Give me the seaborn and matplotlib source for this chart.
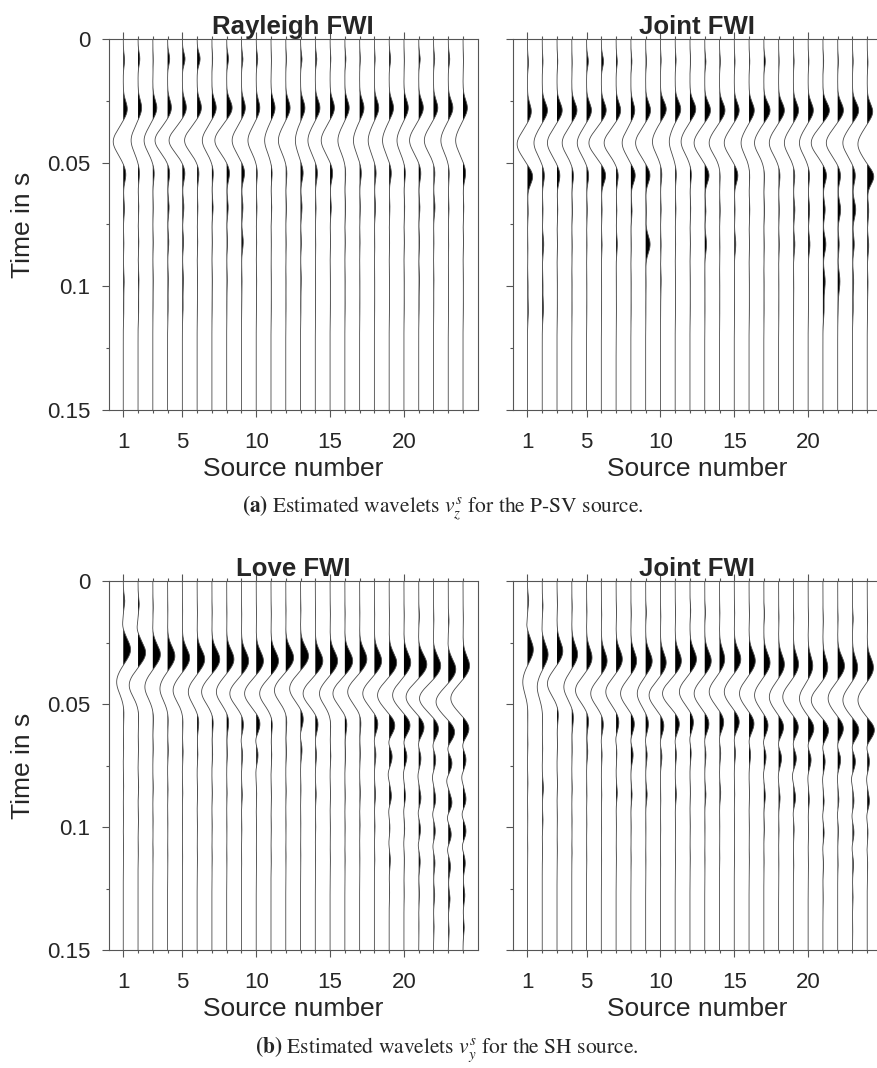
import numpy as np
import pandas as pd
import matplotlib
matplotlib.use("Agg")
import matplotlib.pyplot as plt
import seaborn as sns
from matplotlib.ticker import FixedLocator, MultipleLocator

# ---- data ----
sources = list(range(1, 25))
x_major = [1, 5, 10, 15, 20]
y_major = [0, 0.05, 0.1, 0.15]
y_labels = ['0', '0.05', '0.1', '0.15']
titles = ['Rayleigh FWI', 'Joint FWI', 'Love FWI', 'Joint FWI']
caption_a = r'$\mathbf{(a)}$ Estimated wavelets $v_z^s$ for the P-SV source.'
caption_b = r'$\mathbf{(b)}$ Estimated wavelets $v_y^s$ for the SH source.'

# lobe centre times (s) and widths (s) of the v_z wavelets
vz_times = [0.008, 0.028, 0.041, 0.054, 0.068, 0.082, 0.097, 0.108]
vz_widths = [0.0025, 0.0033, 0.0045, 0.0032, 0.0035, 0.0035, 0.004, 0.004]

# Rayleigh FWI, lobe amplitudes per source (in source spacings, + = right)
ray_p0 = [0.09, 0.12, 0.03, 0.14, 0.18, 0.2, 0.05, 0.12, 0.1, 0.1, 0.03, 0.05, 0.1, 0.1, 0.05, 0.07, 0.05, 0.05, 0.1, 0.03, 0.1, 0.08, 0.1, 0.03]
ray_p1 = [0.28, 0.25, 0.28, 0.27, 0.28, 0.3, 0.3, 0.38, 0.27, 0.25, 0.28, 0.3, 0.3, 0.32, 0.3, 0.3, 0.3, 0.3, 0.3, 0.3, 0.32, 0.3, 0.32, 0.3]
ray_n1 = [-0.68, -0.47, -0.59, -0.85, -0.9, -0.85, -0.65, -0.8, -0.63, -0.56, -0.43, -0.5, -0.35, -0.5, -0.6, -0.47, -0.42, -0.42, -0.45, -0.47, -0.62, -0.62, -0.5, -0.5]
ray_p2 = [0.18, 0.1, 0.1, 0.15, 0.18, 0.13, 0.1, 0.2, 0.22, 0.08, 0.08, 0.08, 0.18, 0.15, 0.18, 0.06, 0.12, 0.12, 0.15, 0.1, 0.15, 0.1, 0.07, 0.18]
ray_p3 = [0.08, 0.05, 0.03, 0.1, 0.1, 0.05, 0.08, 0.1, 0.1, 0.05, 0.05, 0.05, 0.1, 0.05, 0.08, 0.05, 0.05, 0.08, 0.05, 0.05, 0.08, 0.1, 0.05, 0.05]
ray_p4 = [0.04, 0.05, 0.03, 0.08, 0.08, 0.04, 0.03, 0.06, 0.12, 0.03, 0.02, 0.03, 0.06, 0.03, 0.03, 0.03, 0.03, 0.03, 0.03, 0.03, 0.06, 0.03, 0.03, 0.03]
ray_p5 = [0.06, 0.06, 0.03, 0.05, 0.07, 0.03, 0.03, 0.04, 0.04, 0.03, 0.02, 0.02, 0.05, 0.02, 0.02, 0.02, 0.02, 0.02, 0.02, 0.02, 0.05, 0.03, 0.02, 0.02]
ray_p6 = [0.04, 0.05, 0.02, 0.04, 0.05, 0.02, 0.02, 0.02, 0.02, 0.02, 0.02, 0.02, 0.03, 0.02, 0.02, 0.02, 0.02, 0.02, 0.02, 0.02, 0.03, 0.02, 0.02, 0.02]
ray_shift_ms = [0.5, 0, 0, 0, 0, 0, 0, 0, 0, 0, 0, 0, 0, 0, 0, 0, 0, 0, 0, 0, 0, 0, 0, 0]

# Joint FWI (P-SV)
jz_p0 = [0.07, 0.05, 0.05, 0.03, 0.12, 0.15, 0.08, 0.07, 0.06, 0.05, 0.06, 0.04, 0.08, 0.06, 0.05, 0.05, 0.1, 0.04, 0.05, 0.05, 0.05, 0.05, 0.05, 0.05]
jz_p1 = [0.27, 0.36, 0.36, 0.36, 0.34, 0.34, 0.32, 0.27, 0.34, 0.4, 0.38, 0.4, 0.4, 0.38, 0.34, 0.36, 0.43, 0.4, 0.36, 0.36, 0.45, 0.4, 0.43, 0.38]
jz_n1 = [-0.7, -0.56, -0.65, -0.65, -0.63, -0.84, -0.81, -0.59, -0.68, -0.54, -0.4, -0.6, -0.72, -0.7, -0.68, -0.54, -0.63, -0.63, -0.61, -0.59, -0.79, -0.77, -0.65, -0.63]
jz_p2 = [0.36, 0.15, 0.2, 0.12, 0.15, 0.3, 0.15, 0.3, 0.3, 0.1, 0.08, 0.1, 0.3, 0.05, 0.25, 0.05, 0.05, 0.1, 0.1, 0.1, 0.25, 0.2, 0.2, 0.45]
jz_p3 = [0.05, 0.05, 0.05, 0.05, 0.05, 0.05, 0.05, 0.08, 0.05, 0.05, 0.05, 0.05, 0.08, 0.05, 0.05, 0.05, 0.05, 0.05, 0.1, 0.1, 0.15, 0.2, 0.22, 0.1]
jz_p4 = [0.03, 0.1, 0.03, 0.03, 0.03, 0.05, 0.08, 0.03, 0.3, 0.05, 0.03, 0.03, 0.12, 0.03, 0.1, 0.03, 0.03, 0.05, 0.1, 0.12, 0.2, 0.1, 0.12, 0.1]
jz_p5 = [0.04, 0.05, 0.02, 0.02, 0.02, 0.02, 0.02, 0.02, 0.03, 0.05, 0.02, 0.02, 0.02, 0.02, 0.02, 0.02, 0.02, 0.02, 0.03, 0.03, 0.15, 0.15, 0.08, 0.05]
jz_p6 = [0.06, 0.08, 0.02, 0.02, 0.02, 0.02, 0.02, 0.02, 0.02, 0.02, 0.02, 0.02, 0.02, 0.02, 0.02, 0.02, 0.02, 0.02, 0.02, 0.02, 0.08, 0.03, 0.05, 0.02]
jz_shift_ms = [1.5, 1, 1, 1, 1, 1, 1, 1, 1, 0.5, 0.5, 0.5, 1, 1, 1, 1, 1, 1, 1, 1, 1, 1, 1, 1.5]

# lobe centre times (s) and widths (s) of the v_y wavelets
vy_times = [0.008, 0.018, 0.028, 0.041, 0.053, 0.060, 0.066, 0.073, 0.082, 0.088, 0.095, 0.101, 0.108, 0.121, 0.134]
vy_widths = [0.0025, 0.002, 0.004, 0.0045, 0.0035, 0.002, 0.003, 0.002, 0.003, 0.002, 0.003, 0.002, 0.003, 0.003, 0.003]

# Love FWI
love_p0 = [0.1, 0.08, 0.03, 0.02, 0.02, 0.02, 0.02, 0.02, 0.02, 0.02, 0.02, 0.02, 0.03, 0.02, 0.02, 0.02, 0.02, 0.02, 0.02, 0.02, 0.05, 0.03, 0.05, 0.02]
love_n0 = [-0.06, -0.08, -0.02, 0, 0, 0, 0, 0, 0, 0, 0, 0, 0, 0, 0, 0, 0, 0, 0, 0, -0.02, -0.02, -0.03, 0]
love_p1 = [0.5, 0.52, 0.52, 0.5, 0.5, 0.52, 0.54, 0.5, 0.5, 0.5, 0.52, 0.54, 0.55, 0.52, 0.52, 0.54, 0.5, 0.5, 0.52, 0.47, 0.56, 0.5, 0.52, 0.45]
love_n1 = [-0.45, -0.6, -0.54, -0.52, -0.63, -0.6, -0.7, -0.7, -0.79, -0.79, -0.77, -0.77, -0.74, -0.83, -0.72, -0.81, -0.81, -0.79, -0.79, -0.77, -0.86, -0.95, -0.83, -0.83]
love_p2 = [0.05, 0.05, 0.05, 0.05, 0.05, 0.12, 0.1, 0.15, 0.15, 0.27, 0.1, 0.08, 0.2, 0.2, 0.05, 0.15, 0.1, 0.25, 0.4, 0.43, 0.38, 0.36, 0.45, 0.42]
love_n2 = [0, 0, 0, 0, 0, 0, 0, 0, -0.05, -0.08, 0, 0, -0.05, -0.03, 0, 0, 0, -0.05, -0.1, -0.08, -0.08, -0.1, -0.12, -0.1]
love_p3 = [0.03, 0.03, 0.03, 0.05, 0.05, 0.05, 0.05, 0.05, 0.08, 0.12, 0.05, 0.05, 0.1, 0.08, 0.05, 0.05, 0.05, 0.1, 0.2, 0.2, 0.15, 0.15, 0.25, 0.2]
love_n3 = [0, 0, 0, 0, 0, 0, 0, 0, 0, -0.03, 0, 0, 0, 0, 0, 0, 0, 0, -0.08, -0.05, -0.06, -0.08, -0.12, -0.1]
love_p4 = [0.03, 0.04, 0.03, 0.03, 0.03, 0.03, 0.03, 0.03, 0.06, 0.03, 0.03, 0.03, 0.03, 0.06, 0.03, 0.03, 0.05, 0.08, 0.15, 0.1, 0.15, 0.15, 0.25, 0.2]
love_n4 = [0, 0, 0, 0, 0, 0, 0, 0, 0, 0, 0, 0, 0, 0, 0, 0, 0, 0, -0.05, -0.03, -0.06, -0.08, -0.1, -0.1]
love_p5 = [0.02, 0.03, 0.02, 0.02, 0.02, 0.02, 0.02, 0.02, 0.03, 0.02, 0.02, 0.02, 0.02, 0.03, 0.02, 0.02, 0.03, 0.04, 0.05, 0.05, 0.12, 0.12, 0.2, 0.2]
love_n5 = [0, 0, 0, 0, 0, 0, 0, 0, 0, 0, 0, 0, 0, 0, 0, 0, 0, 0, -0.03, -0.02, -0.05, -0.06, -0.08, -0.08]
love_p6 = [0.02, 0.02, 0.02, 0.02, 0.02, 0.02, 0.02, 0.02, 0.02, 0.02, 0.02, 0.02, 0.02, 0.02, 0.02, 0.02, 0.02, 0.03, 0.08, 0.03, 0.1, 0.1, 0.15, 0.15]
love_p7 = [0, 0, 0, 0, 0, 0, 0, 0, 0, 0, 0, 0, 0, 0, 0, 0, 0, 0, 0.03, 0.02, 0.05, 0.08, 0.12, 0.12]
love_p8 = [0, 0, 0, 0, 0, 0, 0, 0, 0, 0, 0, 0, 0, 0, 0, 0, 0, 0, 0, 0, 0.02, 0.04, 0.06, 0.08]
love_shift_ms = [0, 1.3, 2.0, 2.7, 3.4, 4.0, 4.0, 4.0, 4.7, 4.7, 4.7, 3.4, 2.7, 4.7, 4.7, 4.7, 4.0, 4.7, 5.4, 5.4, 6.1, 6.7, 8.1, 6.7]

# Joint FWI (SH)
jy_p0 = [0.08, 0.05, 0.03, 0.03, 0.03, 0.03, 0.03, 0.03, 0.05, 0.03, 0.03, 0.05, 0.05, 0.03, 0.03, 0.03, 0.05, 0.03, 0.03, 0.03, 0.03, 0.03, 0.05, 0.03]
jy_n0 = [-0.06, -0.03, 0, 0, 0, 0, 0, 0, 0, 0, 0, 0, 0, 0, 0, 0, 0, 0, 0, 0, 0, 0, 0, 0]
jy_p1 = [0.4, 0.4, 0.4, 0.4, 0.38, 0.4, 0.43, 0.4, 0.45, 0.4, 0.43, 0.45, 0.45, 0.36, 0.45, 0.43, 0.43, 0.4, 0.36, 0.32, 0.34, 0.47, 0.36, 0.43]
jy_n1 = [-0.32, -0.34, -0.65, -0.54, -0.75, -0.72, -0.7, -0.7, -0.57, -0.77, -0.86, -0.72, -0.72, -0.7, -0.68, -0.65, -0.63, -0.63, -0.72, -0.59, -0.79, -0.65, -0.65, -0.63]
jy_p2 = [0.03, 0.03, 0.1, 0.12, 0.15, 0.15, 0.2, 0.25, 0.2, 0.25, 0.3, 0.25, 0.3, 0.3, 0.35, 0.35, 0.3, 0.35, 0.35, 0.4, 0.4, 0.4, 0.45, 0.5]
jy_n2 = [0, 0, 0, 0, 0, -0.03, -0.05, -0.05, -0.05, -0.05, -0.05, -0.05, -0.05, -0.05, -0.05, -0.05, -0.08, -0.08, -0.08, -0.08, -0.08, -0.08, -0.1, -0.1]
jy_p3 = [0.03, 0.03, 0.03, 0.03, 0.08, 0.05, 0.05, 0.15, 0.1, 0.1, 0.08, 0.08, 0.08, 0.08, 0.08, 0.1, 0.15, 0.2, 0.2, 0.2, 0.15, 0.2, 0.2, 0.15]
jy_n3 = [0, 0, 0, 0, 0, 0, 0, 0, 0, 0, 0, 0, 0, 0, 0, 0, -0.03, -0.03, -0.08, -0.03, -0.03, -0.03, -0.08, -0.05]
jy_p4 = [0.03, 0.08, 0.03, 0.03, 0.03, 0.03, 0.08, 0.08, 0.1, 0.03, 0.08, 0.03, 0.08, 0.08, 0.03, 0.03, 0.1, 0.1, 0.15, 0.08, 0.08, 0.08, 0.1, 0.15]
jy_n4 = [0, 0, 0, 0, 0, 0, 0, 0, 0, 0, 0, 0, 0, 0, 0, 0, 0, 0, -0.03, 0, -0.03, -0.03, -0.05, -0.05]
jy_p5 = [0.02, 0.05, 0.02, 0.02, 0.02, 0.02, 0.02, 0.02, 0.02, 0.02, 0.02, 0.02, 0.02, 0.02, 0.02, 0.02, 0.04, 0.03, 0.05, 0.03, 0.08, 0.05, 0.1, 0.05]
jy_n5 = [0, 0, 0, 0, 0, 0, 0, 0, 0, 0, 0, 0, 0, 0, 0, 0, 0, 0, 0, 0, -0.02, 0, -0.04, -0.02]
jy_p6 = [0.02, 0.02, 0.02, 0.02, 0.02, 0.02, 0.02, 0.02, 0.02, 0.02, 0.02, 0.02, 0.02, 0.02, 0.02, 0.02, 0.02, 0.02, 0.03, 0.02, 0.04, 0.03, 0.07, 0.03]
jy_p7 = [0, 0, 0, 0, 0, 0, 0, 0, 0, 0, 0, 0, 0, 0, 0, 0, 0, 0, 0, 0, 0.02, 0, 0.04, 0]
jy_p8 = [0, 0, 0, 0, 0, 0, 0, 0, 0, 0, 0, 0, 0, 0, 0, 0, 0, 0, 0, 0, 0, 0, 0.02, 0]
jy_shift_ms = [0, 2.0, 0.7, 2.0, 3.4, 4.7, 4.0, 4.7, 4.7, 5.4, 4.7, 4.0, 4.7, 4.0, 4.0, 4.7, 5.4, 6.1, 6.1, 6.7, 7.4, 6.7, 7.4, 7.4]

ray_lobes = [ray_p0, ray_p1, ray_n1, ray_p2, ray_p3, ray_p4, ray_p5, ray_p6]
jz_lobes = [jz_p0, jz_p1, jz_n1, jz_p2, jz_p3, jz_p4, jz_p5, jz_p6]
love_lobes = [love_p0, love_n0, love_p1, love_n1, love_p2, love_n2, love_p3, love_n3,
              love_p4, love_n4, love_p5, love_n5, love_p6, love_p7, love_p8]
jy_lobes = [jy_p0, jy_n0, jy_p1, jy_n1, jy_p2, jy_n2, jy_p3, jy_n3,
            jy_p4, jy_n4, jy_p5, jy_n5, jy_p6, jy_p7, jy_p8]

# ---- build the traces ----
t = np.linspace(0, 0.15, 901)


def build_traces(lobes, times, widths, shift_ms):
    frames = []
    for i, src in enumerate(sources):
        tr = np.zeros_like(t)
        for amps, tc, w in zip(lobes, times, widths):
            tr += amps[i] * np.exp(-0.5 * ((t - tc - shift_ms[i] / 1000.0) / w) ** 2)
        frames.append(pd.DataFrame({'source': src, 'time': t, 'amp': tr, 'x': src + tr}))
    return pd.concat(frames, ignore_index=True)


panels = [
    build_traces(ray_lobes, vz_times, vz_widths, ray_shift_ms),
    build_traces(jz_lobes, vz_times, vz_widths, jz_shift_ms),
    build_traces(love_lobes, vy_times, vy_widths, love_shift_ms),
    build_traces(jy_lobes, vy_times, vy_widths, jy_shift_ms),
]

sns.set_style("white")
plt.rcParams['font.family'] = ['Liberation Sans', 'DejaVu Sans']
plt.rcParams['mathtext.fontset'] = 'stix'

fig = plt.figure(figsize=(8.77, 10.68), dpi=100)
W, H = 877.0, 1068.0
boxes = [(108.5, 39, 369.3, 371), (512.7, 39, 369.3, 371),
         (108.5, 581, 369.3, 369), (512.7, 581, 369.3, 369)]
axc = '#555555'

for k, (df, (l, top, w, h)) in enumerate(zip(panels, boxes)):
    ax = fig.add_axes([l / W, 1 - (top + h) / H, w / W, h / H])
    sns.lineplot(data=df, x='x', y='time', units='source', estimator=None,
                 orient='y', color='#4a4a4a', linewidth=0.6, ax=ax)
    for src, g in df.groupby('source'):
        ax.fill_betweenx(g['time'].values, src, g['x'].values,
                         where=g['amp'].values > 0, interpolate=True,
                         color='black', linewidth=0)
    ax.set_xlim(0, 25)
    ax.set_ylim(0.15, 0)
    ax.set_xticks(x_major)
    ax.set_xticklabels([str(v) for v in x_major])
    ax.xaxis.set_minor_locator(FixedLocator(sources))
    ax.set_yticks(y_major)
    ax.set_yticklabels(y_labels)
    ax.yaxis.set_minor_locator(MultipleLocator(0.025))
    ax.tick_params(which='both', direction='out', top=True, right=False,
                   bottom=True, left=True, color=axc, labelsize=16,
                   labelcolor='#262626', width=0.8)
    ax.tick_params(which='major', length=5)
    ax.tick_params(which='minor', length=2.5)
    ax.tick_params(axis='y', pad=8)
    ax.tick_params(axis='x', pad=11)
    for sp in ax.spines.values():
        sp.set_visible(True)
        sp.set_color(axc)
        sp.set_linewidth(0.8)
    ax.set_xlabel('Source number', fontsize=19, color='#262626')
    ax.xaxis.set_label_coords(0.5, -0.128)
    if k % 2 == 0:
        ax.set_ylabel('Time in s', fontsize=19, color='#262626')
        ax.yaxis.set_label_coords(-0.2, 0.5)
    else:
        ax.set_ylabel('')
        ax.tick_params(labelleft=False)
    ax.set_title(titles[k], fontsize=18.5, fontweight='bold', pad=3)

fig.text(0.505, 1 - 508 / H, caption_a, ha='center', va='center',
         fontsize=15.5, family='STIXGeneral')
fig.text(0.51, 1 - 1049 / H, caption_b, ha='center', va='center',
         fontsize=15.5, family='STIXGeneral')

fig.savefig('out.png', dpi=100)
